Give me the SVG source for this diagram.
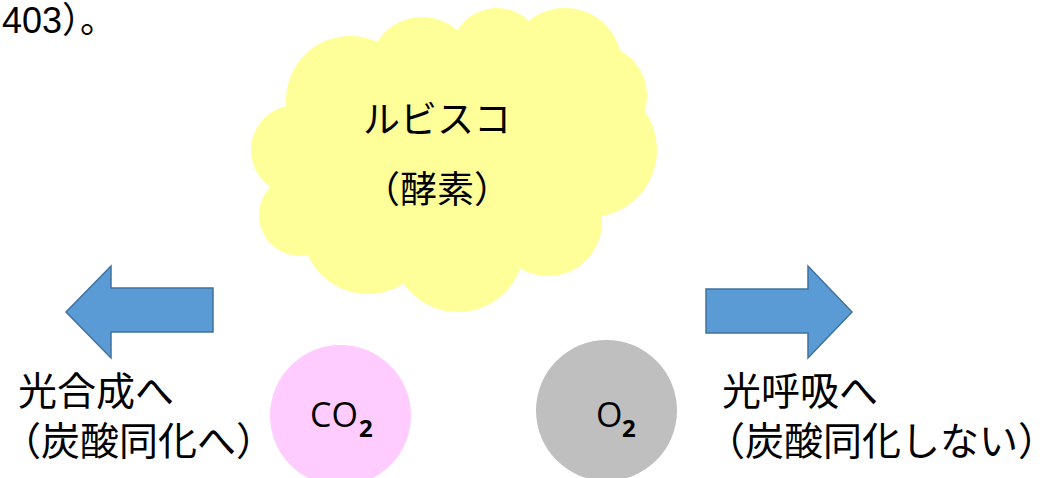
<svg xmlns="http://www.w3.org/2000/svg" width="1044" height="478" viewBox="0 0 1044 478">
<style>
.jp{font-family:"Noto Sans CJK JP","Noto Sans CJK SC",sans-serif;fill:#000}
.lbl{font-size:39px}
.cl{font-size:37px}
.chem{font-family:"Open Sans","Liberation Sans",sans-serif;font-size:34px;fill:#000}
.sub{font-family:"Open Sans","Liberation Sans",sans-serif;font-size:24px;font-weight:bold;fill:#000}
.arrow{fill:#5B9BD5;stroke:#41719C;stroke-width:1.5;stroke-linejoin:miter}
.cloud{fill:#FFFF99}
</style>
<rect width="1044" height="478" fill="#FFFFFF"/>
<g id="top-text">
<text x="2" y="33" style="font-family:'Liberation Sans','Noto Sans CJK JP',sans-serif;font-size:36px" fill="#000">403）。</text>
</g>
<g id="rubisco">
<g class="cloud">
<ellipse cx="455" cy="165" rx="165" ry="105"/>
<circle cx="350" cy="100" r="64"/>
<circle cx="422" cy="70" r="53"/>
<circle cx="497" cy="54" r="46"/>
<circle cx="565" cy="65" r="57"/>
<circle cx="595" cy="96" r="52"/>
<circle cx="590" cy="150" r="67"/>
<circle cx="548" cy="222" r="54"/>
<circle cx="458" cy="246" r="66"/>
<circle cx="368" cy="228" r="66"/>
<circle cx="300" cy="215" r="41"/>
<circle cx="296" cy="150" r="45"/>
</g>
<text class="jp cl" x="437" y="133" text-anchor="middle">ルビスコ</text>
<text class="jp cl" x="437" y="203" text-anchor="middle">（酵素）</text>
</g>
<g id="arrow-left">
<polygon class="arrow" points="66,312 111,266 111,288 213,288 213,332 111,332 111,358"/>
</g>
<g id="arrow-right">
<polygon class="arrow" points="706,289 808,289 808,266 852,312 808,358 808,333 706,333"/>
</g>
<g id="co2">
<circle cx="340.5" cy="415.5" r="70.5" fill="#FFCCFF"/>
<text class="chem" x="310" y="427">CO</text>
<text class="sub" x="359" y="437">2</text>
</g>
<g id="o2">
<circle cx="606.5" cy="410.5" r="70.5" fill="#BFBFBF"/>
<text class="chem" x="596" y="427">O</text>
<text class="sub" x="622" y="437">2</text>
</g>
<g id="label-left">
<text class="jp lbl" x="18" y="405">光合成へ</text>
<text class="jp lbl" x="2" y="455">（炭酸同化へ）</text>
</g>
<g id="label-right">
<text class="jp lbl" x="722" y="405">光呼吸へ</text>
<text class="jp lbl" x="706" y="455">（炭酸同化しない）</text>
</g>
</svg>
